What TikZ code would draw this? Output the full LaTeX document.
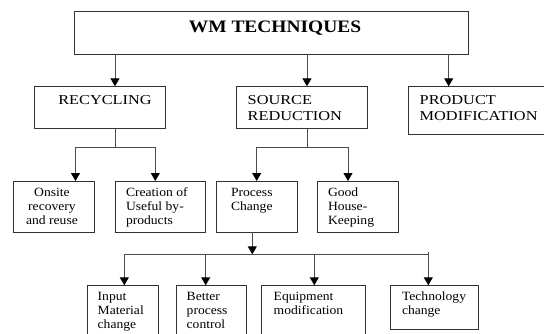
\documentclass[tikz,border=0pt]{standalone}
\usepackage{fontspec}
\setmainfont{Liberation Serif}
\newfontfamily\titlefont[FakeStretch=1.11]{Liberation Serif}
\newfontfamily\midfont[FakeStretch=1.2]{Liberation Serif}
\newfontfamily\smallfont[FakeStretch=1.08]{Liberation Serif}
\usetikzlibrary{arrows.meta}
\tikzset{
  box/.style={draw=black!80, line width=0.9pt, inner sep=0pt, outer sep=0pt, anchor=north west},
  conn/.style={draw=black!70, line width=0.9pt},
  arr/.style={conn, -{Triangle[width=9pt,length=8pt,color=black]}},
  lbl/.style={inner sep=0pt, outer sep=0pt, align=left, anchor=base west, text=black},
  titletxt/.style={lbl, anchor=base, font=\titlefont\bfseries\fontsize{17.5}{20}\selectfont},
  midtxt/.style={lbl, font=\midfont\fontsize{13.6}{16.3}\selectfont},
  smalltxt/.style={lbl, font=\smallfont\fontsize{12.6}{14}\selectfont}
}
\begin{document}
\begin{tikzpicture}[x=1pt,y=-1pt]
\fill[white] (0,0) rectangle (544,333);
\useasboundingbox (0,0) rectangle (544,333);

% boxes
\node[box, minimum width=394pt, minimum height=42.3pt] (top) at (74.7,11.7) {};
\node[box, minimum width=131.3pt, minimum height=42.4pt] (rec) at (34,86.3) {};
\node[box, minimum width=131.4pt, minimum height=42.4pt] (src) at (236.3,86.3) {};
\node[box, minimum width=143pt, minimum height=47.7pt] (prod) at (408.7,86.3) {};
\node[box, minimum width=81.4pt, minimum height=51.3pt] (onsite) at (13.3,181) {};
\node[box, minimum width=90.3pt, minimum height=51.3pt] (creation) at (115,181) {};
\node[box, minimum width=80.6pt, minimum height=51.3pt] (process) at (216.7,181) {};
\node[box, minimum width=81pt, minimum height=51.3pt] (good) at (317,181) {};
\node[box, minimum width=71.4pt, minimum height=60pt] (input) at (87.3,285.3) {};
\node[box, minimum width=70.7pt, minimum height=60pt] (better) at (176,285.3) {};
\node[box, minimum width=104pt, minimum height=60pt] (equip) at (261.7,285.3) {};
\node[box, minimum width=88pt, minimum height=44.4pt] (tech) at (390.7,285.3) {};

% texts (base anchor = baseline of last line)
\node[titletxt] (ttop) at (275,32.3) {WM TECHNIQUES};
\node[midtxt] (trec) at (58.3,104) {RECYCLING};
\node[midtxt] (tsrc) at (247.7,120.3) {SOURCE\\REDUCTION};
\node[midtxt] (tprod) at (419.7,120.3) {PRODUCT\\MODIFICATION};
\node[smalltxt, align=center, anchor=base] (tonsite) at (52,224.7) {Onsite\\recovery\\and reuse};
\node[smalltxt] (tcreation) at (126,224.7) {Creation of\\Useful by-\\products};
\node[smalltxt] (tprocess) at (231,210.7) {Process\\Change};
\node[smalltxt] (tgood) at (328,224.7) {Good\\House-\\Keeping};
\node[smalltxt] (tinput) at (97.7,328.7) {Input\\Material\\change};
\node[smalltxt] (tbetter) at (186.7,328.7) {Better\\process\\control};
\node[smalltxt] (tequip) at (273.7,314.7) {Equipment\\modification};
\node[smalltxt] (ttech) at (402,314.7) {Technology\\change};

% junction coordinates
\coordinate (c1) at (115,0);
\coordinate (c2) at (307,0);
\coordinate (c3) at (448.7,0);
\coordinate (rj) at (115,147.3);
\coordinate (rl) at (75.5,147.3);
\coordinate (rr) at (155.3,147.3);
\coordinate (sj) at (307,147.3);
\coordinate (sl) at (256.7,147.3);
\coordinate (sr) at (348,147.3);
\coordinate (pj) at (252.3,254.3);
\coordinate (hl) at (124.3,254.3);
\coordinate (hb) at (205.7,254.3);
\coordinate (he) at (314.3,254.3);
\coordinate (hr) at (428.3,254.3);

% connectors
\draw[arr] (top.south -| c1) -- (rec.north -| c1);
\draw[arr] (top.south -| c2) -- (src.north -| c2);
\draw[arr] (top.south -| c3) -- (prod.north -| c3);

\draw[conn] (rec.south -| rj) -- (rj);
\draw[conn] (rl) -- (rr);
\draw[arr] (rl) -- (onsite.north -| rl);
\draw[arr] (rr) -- (creation.north -| rr);

\draw[conn] (src.south -| sj) -- (sj);
\draw[conn] (sl) -- (sr);
\draw[arr] (sl) -- (process.north -| sl);
\draw[arr] (sr) -- (good.north -| sr);

\draw[arr] (process.south -| pj) -- (pj);
\draw[conn] (hl) -- (hr);
\draw[arr] (hl) -- (input.north -| hl);
\draw[arr] (hb) -- (better.north -| hb);
\draw[arr] (he) -- (equip.north -| he);
\draw[arr] ([yshift=2pt]hr) -- (tech.north -| hr);
\end{tikzpicture}
\end{document}
